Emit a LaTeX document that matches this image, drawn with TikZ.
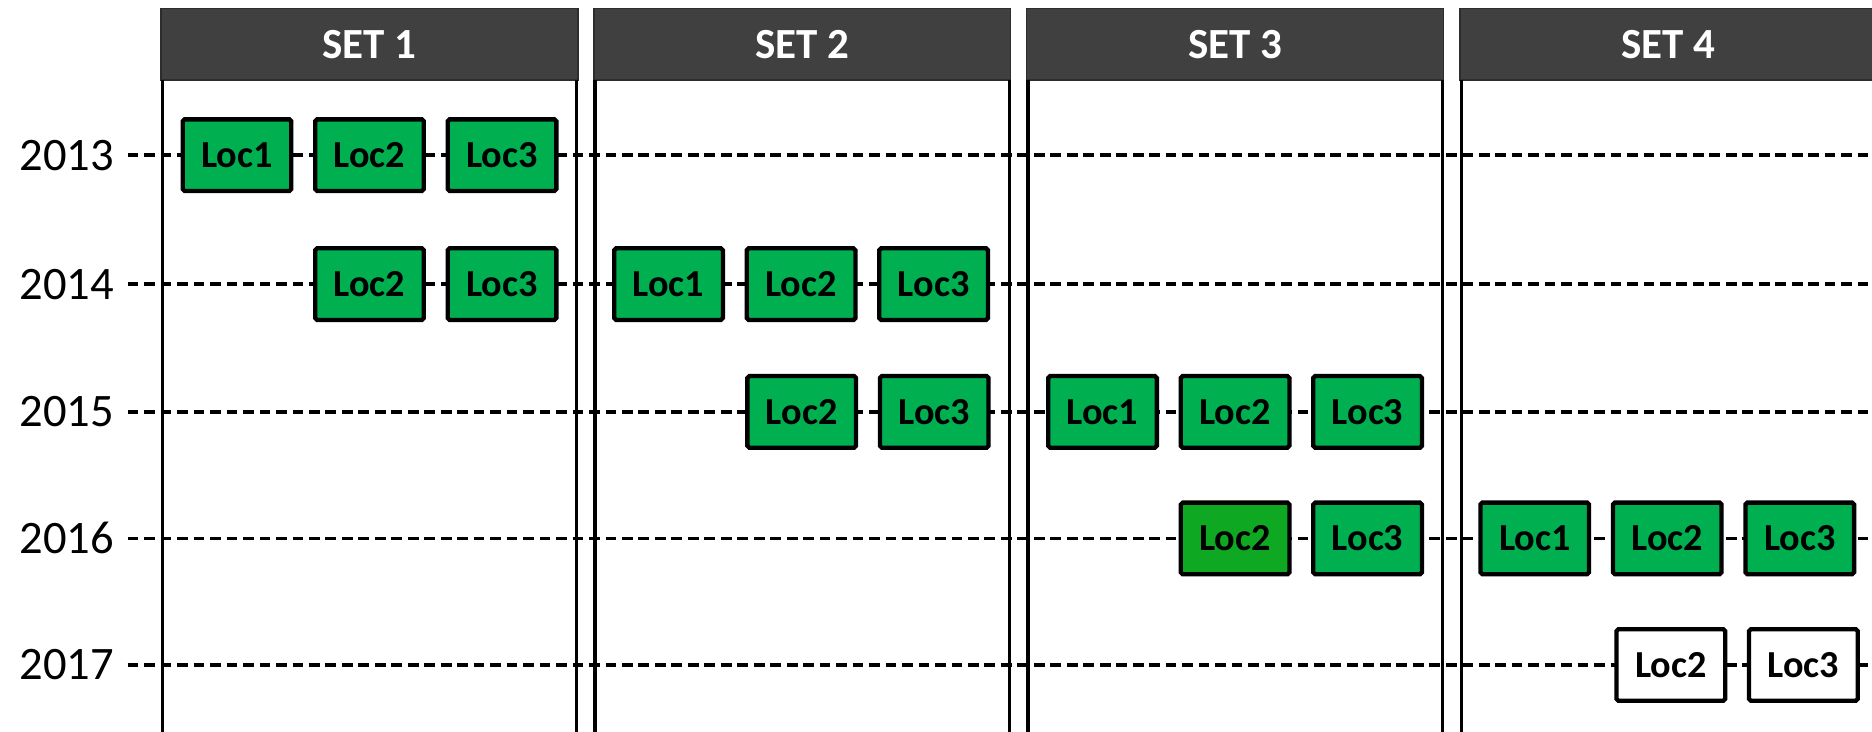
\documentclass[tikz,border=0pt]{standalone}
\usepackage{fontspec}
\setmainfont{Carlito}
\definecolor{hdr}{HTML}{404040}
\definecolor{locgreen}{HTML}{00B050}
\definecolor{locdark}{HTML}{0FA823}
\begin{document}
\begin{tikzpicture}[x=0.5pt,y=-0.5pt,
  header/.style={draw=hdr!70!black, line width=0.6pt, fill=hdr, text=white,
    font=\bfseries\fontsize{18}{21}\selectfont, minimum width=174.5pt,
    minimum height=30pt, inner sep=0pt, outer sep=0pt, anchor=north west},
  loc/.style={draw=black, line width=1.8pt, fill=locgreen,
    font=\bfseries\fontsize{16}{19}\selectfont, minimum width=45.5pt,
    minimum height=30pt, inner sep=0pt, rounded corners=0.8pt},
  locdk/.style={loc, fill=locdark},
  locwh/.style={loc, fill=white},
  year/.style={font=\fontsize{19.5}{22}\selectfont, anchor=east, inner sep=0pt},
  dashline/.style={line width=1.6pt, dash pattern=on 4.5pt off 2.4pt, shorten <=5.5pt},
  panelline/.style={line width=1.4pt}]
\useasboundingbox (0,0) rectangle (1568,613);
\clip (0,0) rectangle (1568,613);
\fill[white] (0,0) rectangle (1568,613);

% year labels and the right-hand ends of their guide lines
\node[year] (y2013) at (96,130) {2013};
\node[year] (y2014) at (96,238) {2014};
\node[year] (y2015) at (96,345) {2015};
\node[year] (y2016) at (96,451) {2016};
\node[year] (y2017) at (96,557) {2017};
\foreach \yr/\yy in {2013/130,2014/238,2015/345,2016/451,2017/557}
  \coordinate (e\yr) at (1570,\yy);
\foreach \yr in {2013,2014,2015,2016,2017}
  \draw[dashline] (y\yr.east) -- (e\yr);

% set headers and column rules
\node[header] (h1) at (135,7) {SET 1};
\node[header] (h2) at (497.5,7) {SET 2};
\node[header] (h3) at (860,7) {SET 3};
\node[header] (h4) at (1223,7) {SET 4};
\coordinate (bot) at (0,614);
\foreach \h in {h1,h2,h3,h4}{
  \draw[panelline] ([xshift=0.5pt]\h.south west) -- ([xshift=0.5pt]\h.south west |- bot);
  \draw[panelline] ([xshift=-0.5pt]\h.south east) -- ([xshift=-0.5pt]\h.south east |- bot);
}

% 2013
\node[loc] (a1) at (198.5,130) {Loc1};
\node[loc] (a2) at (309.5,130) {Loc2};
\node[loc] (a3) at (420.5,130) {Loc3};
% 2014
\node[loc] (b2) at (309.5,238) {Loc2};
\node[loc] (b3) at (420.5,238) {Loc3};
\node[loc] (b4) at (560,238) {Loc1};
\node[loc] (b5) at (671,238) {Loc2};
\node[loc] (b6) at (782,238) {Loc3};
% 2015
\node[loc] (c2) at (671.5,345) {Loc2};
\node[loc] (c3) at (782.5,345) {Loc3};
\node[loc] (c4) at (923.5,345) {Loc1};
\node[loc] (c5) at (1034.5,345) {Loc2};
\node[loc] (c6) at (1145.5,345) {Loc3};
% 2016
\node[locdk] (d2) at (1034.5,451) {Loc2};
\node[loc] (d3) at (1145.5,451) {Loc3};
\node[loc] (d4) at (1285.5,451) {Loc1};
\node[loc] (d5) at (1396.5,451) {Loc2};
\node[loc] (d6) at (1507.5,451) {Loc3};
% 2017
\node[locwh] (f5) at (1399.5,557) {Loc2};
\node[locwh] (f6) at (1510.5,557) {Loc3};
\end{tikzpicture}
\end{document}
